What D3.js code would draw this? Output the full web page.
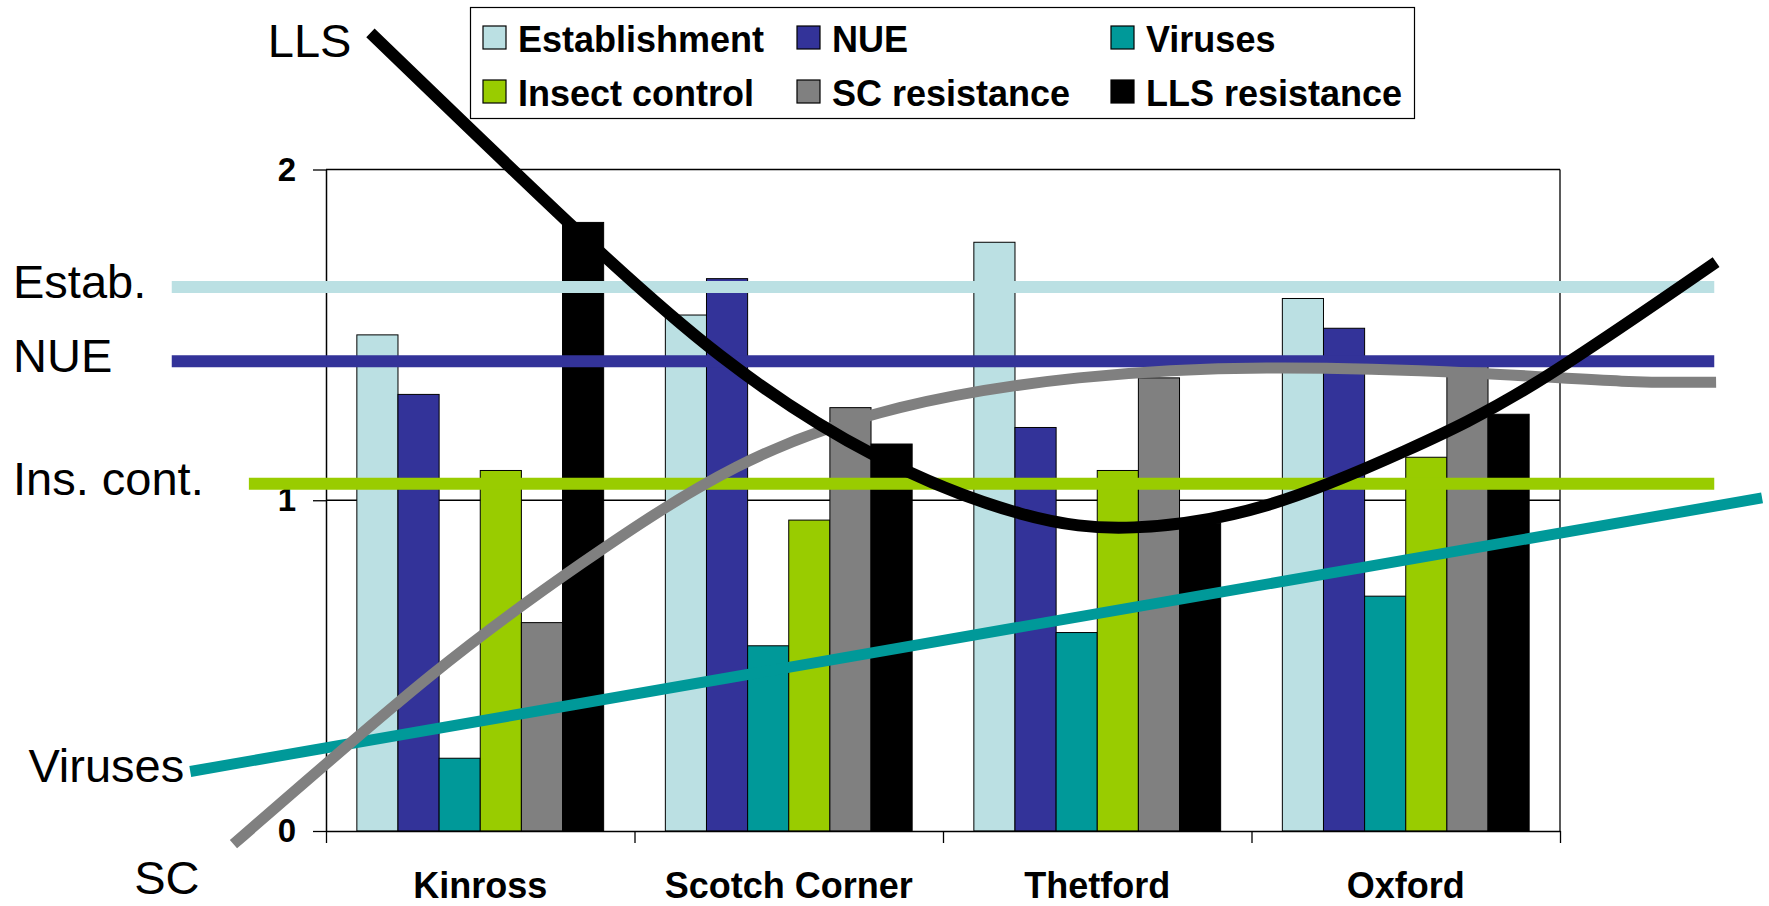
<!DOCTYPE html>
<html>
<head>
<meta charset="utf-8">
<script src="https://cdn.jsdelivr.net/npm/d3@7"></script>
<style>
    body { margin: 0; background: #ffffff; }
    svg { display: block; font-family: Arial, "Liberation Sans", sans-serif; }
</style>
</head>
<body>
<div id="canvas"></div>
<script>
"use strict"

/* Data */
let categories = ["Kinross", "Scotch Corner", "Thetford", "Oxford"];
let seriesNames = ["Establishment", "NUE", "Viruses", "Insect control", "SC resistance", "LLS resistance"];
let seriesColors = ["#bbe0e3", "#333399", "#009999", "#99cc00", "#808080", "#000000"];

let establishment = [1.50, 1.56, 1.78, 1.61];
let nue = [1.32, 1.67, 1.22, 1.52];
let viruses = [0.22, 0.56, 0.60, 0.71];
let insectControl = [1.09, 0.94, 1.09, 1.13];
let scResistance = [0.63, 1.28, 1.37, 1.43];
let llsResistance = [1.84, 1.17, 0.93, 1.26];
let seriesValues = [establishment, nue, viruses, insectControl, scResistance, llsResistance];

let yTicks = [0, 1, 2];

/* target levels (flat lines), x extent in category units */
let targetLabels = ["Estab.", "NUE", "Ins. cont."];
let targetValues = [1.645, 1.42, 1.05];
let targetColors = ["#bbe0e3", "#333399", "#99cc00"];
let targetStart = [-0.5, -0.5, -0.25];
let targetEnd = [4.5, 4.5, 4.5];

/* trend curves: [category units, value] */
let virusTrend = [[-0.44, 0.18], [4.655, 1.007]];
let scTrend = [[-0.30, -0.04], [0.34, 0.47], [0.83, 0.81], [1.33, 1.10], [1.86, 1.28],
    [2.44, 1.37], [3.05, 1.40], [3.71, 1.385], [4.20, 1.36], [4.506, 1.357]];
let llsTrend = [[0.144, 2.413], [0.784, 1.841], [1.28, 1.436], [1.776, 1.137],
    [2.25, 0.96], [2.62, 0.918], [3.05, 0.985], [3.50, 1.15], [3.92, 1.354], [4.506, 1.72]];

/* Drawing configuration */
let svgWidth = 1769;
let svgHeight = 906;
let plotLeft = 326;
let plotRight = 1560;
let plotTop = 169.5;
let plotBottom = 831;

let svg = d3.select("#canvas")
    .append("svg")
    .attr("width", svgWidth)
    .attr("height", svgHeight);

/* scales */
let x0 = d3.scaleBand()
    .domain(categories)
    .range([plotLeft, plotRight])
    .paddingInner(0.2)
    .paddingOuter(0.1);

let x1 = d3.scaleBand()
    .domain(seriesNames)
    .range([0, x0.bandwidth()]);

/* continuous version of the category axis, for the drawn lines */
let xc = d3.scaleLinear()
    .domain([0, categories.length])
    .range([plotLeft, plotRight]);

let yScale = d3.scaleLinear()
    .domain([0, 2])
    .range([plotBottom, plotTop]);

/* gridlines + plot frame */
svg.append("g")
    .selectAll("line")
    .data(yTicks.filter(function (t) { return t > 0; }))
    .join("line")
    .attr("x1", plotLeft)
    .attr("x2", plotRight)
    .attr("y1", function (t) { return yScale(t); })
    .attr("y2", function (t) { return yScale(t); })
    .attr("stroke", "#000")
    .attr("stroke-width", 1.3);

svg.append("line")
    .attr("x1", plotRight)
    .attr("x2", plotRight)
    .attr("y1", yScale(2))
    .attr("y2", yScale(0))
    .attr("stroke", "#000")
    .attr("stroke-width", 1.3);

/* bars */
let groups = svg.append("g")
    .selectAll("g")
    .data(categories)
    .join("g")
    .attr("transform", function (c) { return "translate(" + x0(c) + ",0)"; });

groups.selectAll("rect")
    .data(function (c, i) {
        return seriesNames.map(function (s, k) {
            return {name: s, value: seriesValues[k][i], color: seriesColors[k]};
        });
    })
    .join("rect")
    .attr("x", function (d) { return x1(d.name); })
    .attr("width", x1.bandwidth())
    .attr("y", function (d) { return yScale(d.value); })
    .attr("height", function (d) { return yScale(0) - yScale(d.value); })
    .attr("fill", function (d) { return d.color; })
    .attr("stroke", "#000")
    .attr("stroke-width", 1);

/* y axis */
let yAxis = svg.append("g")
    .attr("transform", "translate(" + plotLeft + ",0)")
    .call(d3.axisLeft(yScale)
        .tickValues(yTicks)
        .tickFormat(d3.format("d"))
        .tickSize(13)
        .tickSizeOuter(0)
        .tickPadding(17));
yAxis.select(".domain").attr("stroke-width", 1.5);
yAxis.selectAll("line").attr("stroke-width", 1.3);
yAxis.selectAll("text")
    .attr("font-size", 33)
    .attr("font-weight", "bold")
    .attr("font-family", "Arial, 'Liberation Sans', sans-serif")
    .attr("fill", "#000");

/* x axis: ticks between categories */
let xAxis = svg.append("g")
    .attr("transform", "translate(0," + plotBottom + ")")
    .call(d3.axisBottom(xc)
        .tickValues(d3.range(categories.length + 1))
        .tickFormat("")
        .tickSize(12)
        .tickSizeOuter(0));
xAxis.select(".domain").attr("stroke-width", 1.5);
xAxis.selectAll("line").attr("stroke-width", 1.3);

svg.append("g")
    .selectAll("text")
    .data(categories)
    .join("text")
    .attr("x", function (c) { return x0(c) + x0.bandwidth() / 2; })
    .attr("y", 898)
    .attr("text-anchor", "middle")
    .attr("font-size", 36)
    .attr("font-weight", "bold")
    .text(function (c) { return c; });

/* flat target lines */
targetValues.forEach(function (v, i) {
    svg.append("line")
        .attr("x1", xc(targetStart[i]))
        .attr("x2", xc(targetEnd[i]))
        .attr("y1", yScale(v))
        .attr("y2", yScale(v))
        .attr("stroke", targetColors[i])
        .attr("stroke-width", 12);
    svg.append("text")
        .attr("x", 13)
        .attr("y", yScale(v) + 11)
        .attr("font-size", 47)
        .text(targetLabels[i]);
});

/* trend lines */
let curveLine = d3.line()
    .x(function (p) { return xc(p[0]); })
    .y(function (p) { return yScale(p[1]); })
    .curve(d3.curveNatural);

svg.append("path")
    .attr("d", curveLine(virusTrend))
    .attr("fill", "none")
    .attr("stroke", "#009999")
    .attr("stroke-width", 11);

svg.append("path")
    .attr("d", curveLine(scTrend))
    .attr("fill", "none")
    .attr("stroke", "#808080")
    .attr("stroke-width", 11);

svg.append("path")
    .attr("d", curveLine(llsTrend))
    .attr("fill", "none")
    .attr("stroke", "#000")
    .attr("stroke-width", 12);

/* labels at the start of the trend lines */
svg.append("text")
    .attr("x", xc(virusTrend[0][0]) - 6)
    .attr("y", yScale(virusTrend[0][1]) + 11)
    .attr("text-anchor", "end")
    .attr("font-size", 47)
    .text("Viruses");

svg.append("text")
    .attr("x", xc(scTrend[0][0]) - 34)
    .attr("y", yScale(scTrend[0][1]) + 50)
    .attr("text-anchor", "end")
    .attr("font-size", 47)
    .text("SC");

svg.append("text")
    .attr("x", xc(llsTrend[0][0]) - 19)
    .attr("y", yScale(llsTrend[0][1]) + 24)
    .attr("text-anchor", "end")
    .attr("font-size", 47)
    .text("LLS");

/* legend */
let legend = svg.append("g");
legend.append("rect")
    .attr("x", 470.5)
    .attr("y", 7.5)
    .attr("width", 944)
    .attr("height", 111)
    .attr("fill", "#fff")
    .attr("stroke", "#000")
    .attr("stroke-width", 1.2);

let legendItems = legend.selectAll("g.item")
    .data(seriesNames)
    .join("g")
    .attr("class", "item")
    .attr("transform", function (s, i) {
        return "translate(" + (483 + (i % 3) * 314) + "," + (26 + Math.floor(i / 3) * 54) + ")";
    });

legendItems.append("rect")
    .attr("width", 23)
    .attr("height", 23)
    .attr("fill", function (s, i) { return seriesColors[i]; })
    .attr("stroke", "#000")
    .attr("stroke-width", 1.2);

legendItems.append("text")
    .attr("x", 35)
    .attr("y", 25.5)
    .attr("font-size", 36)
    .attr("font-weight", "bold")
    .text(function (s) { return s; });
</script>
</body>
</html>
